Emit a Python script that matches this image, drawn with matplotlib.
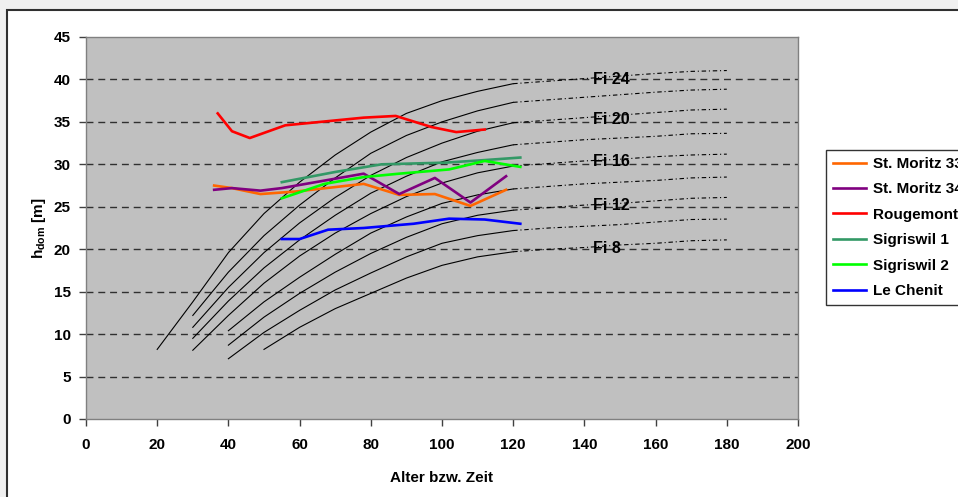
import matplotlib.pyplot as plt
from matplotlib.patches import Rectangle

# Site index curves (solid part up to 120, dash-dot 120..180)
curve_x = [
    [20, 30, 40, 50, 60, 70, 80, 90, 100, 110, 120],
    [30, 40, 50, 60, 70, 80, 90, 100, 110, 120],
    [30, 40, 50, 60, 70, 80, 90, 100, 110, 120],
    [30, 40, 50, 60, 70, 80, 90, 100, 110, 120],
    [30, 40, 50, 60, 70, 80, 90, 100, 110, 120],
    [40, 50, 60, 70, 80, 90, 100, 110, 120],
    [40, 50, 60, 70, 80, 90, 100, 110, 120],
    [40, 50, 60, 70, 80, 90, 100, 110, 120],
    [50, 60, 70, 80, 90, 100, 110, 120],
]
curve_y = [
    [8.2, 13.8, 19.6, 24.2, 27.9, 31.1, 33.8, 36.0, 37.5, 38.6, 39.5],
    [12.2, 17.3, 21.6, 25.2, 28.4, 31.3, 33.4, 35.0, 36.3, 37.3],
    [10.8, 15.5, 19.6, 23.1, 26.1, 28.7, 30.8, 32.5, 33.9, 34.9],
    [9.5, 13.9, 17.8, 21.1, 24.0, 26.6, 28.6, 30.3, 31.4, 32.3],
    [8.1, 12.2, 16.0, 19.2, 21.9, 24.2, 26.2, 27.8, 29.0, 29.8],
    [10.4, 13.8, 16.7, 19.4, 21.9, 23.8, 25.4, 26.4, 27.1],
    [8.7, 12.0, 14.8, 17.3, 19.5, 21.4, 23.0, 24.0, 24.6],
    [7.1, 10.2, 12.8, 15.2, 17.2, 19.1, 20.7, 21.6, 22.2],
    [8.2, 10.8, 13.0, 14.8, 16.6, 18.1, 19.1, 19.7],
]
ext_x = [120, 130, 140, 150, 160, 170, 180]
ext_y = [
    [39.5, 39.8, 40.1, 40.4, 40.7, 40.95, 41.05],
    [37.3, 37.6, 37.9, 38.2, 38.5, 38.75, 38.85],
    [34.9, 35.2, 35.5, 35.8, 36.1, 36.4, 36.5],
    [32.3, 32.6, 32.9, 33.1, 33.3, 33.6, 33.65],
    [29.8, 30.1, 30.4, 30.6, 30.9, 31.1, 31.2],
    [27.1, 27.4, 27.7, 27.9, 28.1, 28.4, 28.5],
    [24.6, 24.9, 25.2, 25.4, 25.7, 26.0, 26.1],
    [22.2, 22.5, 22.7, 22.9, 23.2, 23.5, 23.55],
    [19.7, 20.0, 20.2, 20.5, 20.7, 21.0, 21.1],
]

fi_labels = ["Fi 24", "Fi 20", "Fi 16", "Fi 12", "Fi 8"]
fi_x = [142.5, 142.5, 142.5, 142.5, 142.5]
fi_y = [40.0, 35.3, 30.3, 25.1, 20.1]

# Measured stands
series_names = ["St. Moritz 33", "St. Moritz 34", "Rougemont",
                "Sigriswil 1", "Sigriswil 2", "Le Chenit"]
series_colors = ["#FF6600", "#800080", "#FF0000", "#339966", "#00FF00", "#0000FF"]
series_x = [
    [36, 41, 49, 59, 78, 88, 98, 108, 118],
    [36, 41, 49, 55, 78, 88, 98, 108, 118],
    [37, 41, 46, 56, 61, 78, 87, 97, 104, 112],
    [55, 70, 83, 101, 112, 122],
    [55, 67, 78, 88, 102, 112, 122],
    [55, 60, 68, 78, 92, 102, 112, 122],
]
series_y = [
    [27.5, 27.2, 26.5, 26.8, 27.7, 26.4, 26.5, 25.1, 27.0],
    [27.0, 27.2, 26.9, 27.2, 28.9, 26.5, 28.4, 25.5, 28.6],
    [36.0, 33.9, 33.1, 34.6, 34.8, 35.5, 35.7, 34.4, 33.8, 34.1],
    [27.9, 29.1, 30.0, 30.2, 30.5, 30.8],
    [26.0, 27.7, 28.5, 28.9, 29.4, 30.4, 29.7],
    [21.2, 21.2, 22.3, 22.5, 23.0, 23.6, 23.5, 23.0],
]

x_ticks = list(range(0, 201, 20))
y_ticks = list(range(0, 46, 5))

plt.rcParams["font.family"] = ["Liberation Sans", "DejaVu Sans"]
plt.rcParams["mathtext.fontset"] = "custom"
plt.rcParams["mathtext.rm"] = "Liberation Sans"
plt.rcParams["mathtext.bf"] = "Liberation Sans:bold"

fig = plt.figure(figsize=(9.58, 4.97), dpi=100, facecolor="#F0F0F0")
fig.patches.append(Rectangle((7 / 958, -0.1), 2.0, (497 - 10) / 497 + 0.1,
                             transform=fig.transFigure, facecolor="white",
                             edgecolor="#303030", linewidth=1.5, zorder=-5))

ax = fig.add_axes([86 / 958, 78 / 497, 712 / 958, 382 / 497])
ax.set_zorder(1)
ax.set_facecolor("#C0C0C0")

# dashed horizontal gridlines
for yv in y_ticks[1:-1]:
    ax.axhline(yv, color="#303030", linewidth=1.0, dashes=(5, 3.5), zorder=1)

for cx, cy, ey in zip(curve_x, curve_y, ext_y):
    ax.plot(cx, cy, color="black", linewidth=0.8, zorder=2)
    ax.plot(ext_x, ey, color="black", linewidth=0.8,
            linestyle=(0, (4, 2.5, 1, 2.5)), zorder=2)

for name, col, sx, sy in zip(series_names, series_colors, series_x, series_y):
    ax.plot(sx, sy, color=col, linewidth=1.9, label=name, zorder=3)

for lab, lx, ly in zip(fi_labels, fi_x, fi_y):
    ax.text(lx, ly, lab, fontsize=11.5, fontweight="bold", color="black",
            ha="left", va="center", zorder=4)

ax.set_xlim(0, 200)
ax.set_ylim(0, 45)
ax.set_xticks(x_ticks)
ax.set_yticks(y_ticks)
ax.tick_params(axis="both", direction="out", length=5, width=1,
               color="#404040", labelsize=11, pad=6)
for lbl in ax.get_xticklabels() + ax.get_yticklabels():
    lbl.set_fontweight("bold")
ax.xaxis.set_tick_params(pad=9)
for sp in ax.spines.values():
    sp.set_color("#808080")
    sp.set_linewidth(1.0)

ax.set_xlabel("Alter bzw. Zeit", fontsize=11, fontweight="bold", labelpad=13)
ax.set_ylabel(r"$\mathbf{h_{dom}}$ [m]", fontsize=11, fontweight="bold",
              labelpad=4)

leg = fig.legend(loc="upper left", bbox_to_anchor=(826 / 958, 1 - 150 / 497),
                 prop={"weight": "bold", "size": 11},
                 frameon=True, fancybox=False, handlelength=2.2,
                 handletextpad=0.4, labelspacing=0.75, borderpad=0.45,
                 borderaxespad=0)
leg.set_zorder(5)
leg.get_frame().set_edgecolor("black")
leg.get_frame().set_linewidth(1.0)
for line in leg.get_lines():
    line.set_linewidth(1.9)

fig.savefig("out.png", dpi=100, facecolor=fig.get_facecolor())
